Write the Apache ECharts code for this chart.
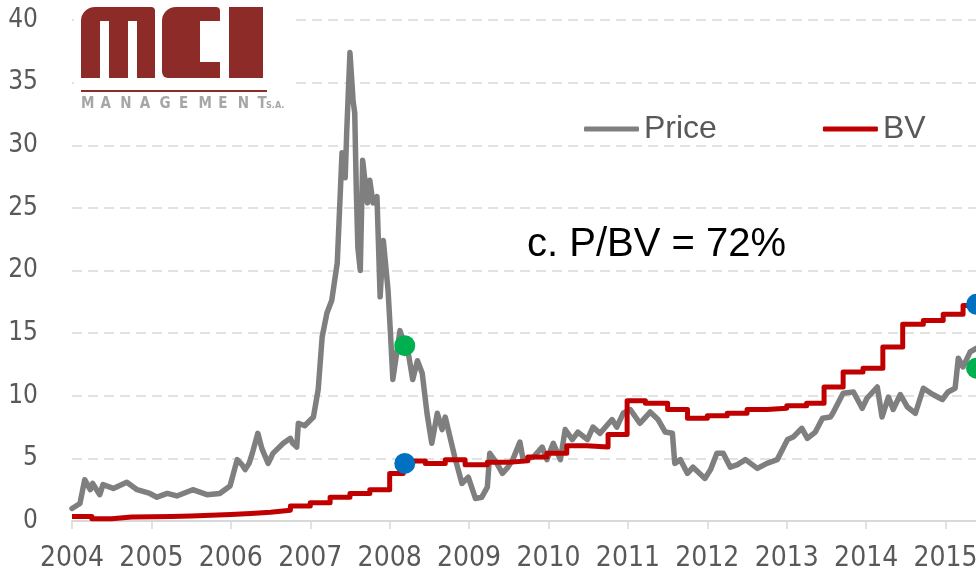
<!DOCTYPE html>
<html>
<head>
<meta charset="utf-8">
<script src="https://cdn.jsdelivr.net/npm/echarts@6/dist/echarts.min.js"></script>
<style>
  html, body { margin: 0; padding: 0; background: #fff; }
  #chart { width: 976px; height: 577px; }
</style>
</head>
<body>
<div id="chart"></div>
<script>
// price (year, PLN)
var priceYears = [2004.00, 2004.10, 2004.16, 2004.23, 2004.26, 2004.35, 2004.39, 2004.52, 2004.69, 2004.82,
  2004.98, 2005.07, 2005.20, 2005.32, 2005.52, 2005.70, 2005.86, 2005.99, 2006.08, 2006.14,
  2006.18, 2006.23, 2006.27, 2006.34, 2006.39, 2006.47, 2006.53, 2006.66, 2006.75, 2006.78,
  2006.83, 2006.85, 2006.93, 2007.04, 2007.10, 2007.15, 2007.21, 2007.27, 2007.34, 2007.40,
  2007.44, 2007.46, 2007.50, 2007.54, 2007.56, 2007.58, 2007.60, 2007.63, 2007.66, 2007.72,
  2007.75, 2007.79, 2007.84, 2007.88, 2007.92, 2007.98, 2008.01, 2008.04, 2008.13, 2008.19,
  2008.24, 2008.29, 2008.35, 2008.41, 2008.47, 2008.53, 2008.60, 2008.66, 2008.70, 2008.76,
  2008.82, 2008.91, 2008.99, 2009.08, 2009.16, 2009.23, 2009.26, 2009.35, 2009.42, 2009.49,
  2009.55, 2009.64, 2009.68, 2009.81, 2009.92, 2009.98, 2010.06, 2010.15, 2010.21, 2010.30,
  2010.37, 2010.49, 2010.56, 2010.65, 2010.80, 2010.86, 2010.94, 2011.03, 2011.15, 2011.28,
  2011.38, 2011.47, 2011.56, 2011.59, 2011.66, 2011.75, 2011.82, 2011.97, 2012.04, 2012.12,
  2012.20, 2012.29, 2012.38, 2012.48, 2012.63, 2012.75, 2012.88, 2013.01, 2013.08, 2013.19,
  2013.26, 2013.36, 2013.45, 2013.55, 2013.58, 2013.71, 2013.84, 2013.95, 2014.01, 2014.14,
  2014.20, 2014.28, 2014.34, 2014.43, 2014.52, 2014.62, 2014.72, 2014.84, 2014.96, 2015.03,
  2015.12, 2015.16, 2015.22, 2015.31, 2015.39];
var priceValues = [1.0, 1.4, 3.3, 2.5, 3.0, 2.1, 2.9, 2.6, 3.1, 2.5,
  2.2, 1.9, 2.2, 2.0, 2.5, 2.1, 2.2, 2.8, 4.9, 4.5,
  4.1, 4.6, 5.4, 7.0, 5.8, 4.6, 5.4, 6.2, 6.6, 6.2,
  5.9, 7.8, 7.6, 8.3, 10.5, 14.7, 16.6, 17.6, 20.6, 29.4,
  27.4, 31.2, 37.4, 33.5, 32.6, 26.4, 21.8, 20.0, 28.8, 25.4,
  27.2, 25.4, 25.9, 17.9, 22.4, 18.4, 15.0, 11.3, 15.2, 14.0,
  13.2, 11.3, 12.8, 11.8, 8.6, 6.2, 8.6, 7.3, 8.3, 6.7,
  5.1, 3.0, 3.5, 1.8, 1.9, 2.7, 5.4, 4.6, 3.8, 4.3,
  4.9, 6.3, 4.9, 5.1, 5.9, 4.9, 6.2, 4.9, 7.3, 6.5,
  7.1, 6.5, 7.5, 7.0, 8.1, 7.5, 8.6, 8.9, 7.8, 8.7,
  8.1, 7.1, 7.0, 4.6, 4.9, 3.8, 4.3, 3.4, 4.1, 5.4,
  5.4, 4.3, 4.5, 4.9, 4.2, 4.6, 4.9, 6.5, 6.7, 7.4,
  6.6, 7.1, 8.2, 8.3, 8.6, 10.2, 10.3, 9.0, 9.8, 10.7,
  8.3, 9.9, 8.9, 10.1, 9.1, 8.6, 10.6, 10.1, 9.7, 10.3,
  10.6, 13.0, 12.3, 13.5, 13.8];

// book value per share, stepped (start of each period)
var bvYears = [2004.00, 2004.25, 2004.50, 2004.75, 2005.00, 2005.25, 2005.50, 2005.75, 2006.00, 2006.25,
  2006.50, 2006.75, 2007.00, 2007.25, 2007.50, 2007.75, 2008.00, 2008.17, 2008.45, 2008.70,
  2008.95, 2009.23, 2009.50, 2009.74, 2009.98, 2010.23, 2010.48, 2010.75, 2010.99, 2011.22,
  2011.50, 2011.75, 2012.00, 2012.25, 2012.50, 2012.75, 2013.00, 2013.25, 2013.47, 2013.71,
  2013.96, 2014.21, 2014.46, 2014.72, 2014.97, 2015.22, 2015.39];
var bvValues = [0.35, 0.18, 0.32, 0.34, 0.36, 0.40, 0.45, 0.52, 0.60, 0.70,
  0.85, 1.2, 1.45, 1.9, 2.2, 2.5, 3.8, 4.8, 4.6, 4.9,
  4.5, 4.7, 4.8, 5.1, 5.4, 6.0, 5.9, 6.9, 9.6, 9.4,
  8.9, 8.2, 8.4, 8.6, 8.9, 9.0, 9.2, 9.4, 10.7, 11.9,
  12.2, 13.9, 15.7, 16.0, 16.5, 17.2, 17.2];

var greenDots = [[2008.19, 14.0], [2015.39, 12.2]];
var blueDots = [[2008.19, 4.6], [2015.39, 17.3]];

var chart = echarts.init(document.getElementById('chart'));

var priceData = priceYears.map(function (y, i) { return [y, priceValues[i]]; });
var bvData = bvYears.map(function (y, i) { return [y, bvValues[i]]; });

var axisFont = "'DejaVu Sans Condensed', 'Liberation Sans', sans-serif";
var logoRed = '#8c2b27';

// logo built from blocks
var logo = [
  { type: 'rect', shape: { x: 74, y: 0, width: 216, height: 116 }, style: { fill: '#fff' } },
  { type: 'rect', shape: { x: 81, y: 7, width: 74, height: 71, r: [14, 4, 0, 0] }, style: { fill: logoRed } },
  { type: 'rect', shape: { x: 100, y: 21, width: 9, height: 57 }, style: { fill: '#fff' } },
  { type: 'rect', shape: { x: 128, y: 21, width: 9, height: 57 }, style: { fill: '#fff' } },
  { type: 'rect', shape: { x: 162, y: 7, width: 58, height: 71, r: [14, 4, 0, 6] }, style: { fill: logoRed } },
  { type: 'rect', shape: { x: 200, y: 21, width: 21, height: 41 }, style: { fill: '#fff' } },
  { type: 'rect', shape: { x: 229, y: 7, width: 34, height: 71 }, style: { fill: logoRed } },
  { type: 'rect', shape: { x: 81, y: 90, width: 186, height: 2 }, style: { fill: logoRed } }
];
'MANAGEMENT'.split('').forEach(function (ch, i) {
  logo.push({
    type: 'text', x: 81 + i * 19.6, y: 104,
    style: { text: ch, fill: '#a6a6a6', font: "bold 15px 'DejaVu Sans Condensed', sans-serif", verticalAlign: 'middle' }
  });
});
logo.push({
  type: 'text', x: 266, y: 106,
  style: { text: 'S.A.', fill: '#a6a6a6', font: "bold 9px 'DejaVu Sans Condensed', sans-serif", verticalAlign: 'middle' }
});
logo.forEach(function (el) { el.z = 10; });

chart.setOption({
  animation: false,
  grid: { left: 72, top: 20, width: 953, height: 501, outerBoundsMode: 'none', containLabel: false },
  legend: {
    data: ['Price', 'BV'],
    left: 579,
    top: 108,
    icon: 'roundRect',
    itemWidth: 55,
    itemHeight: 5,
    itemGap: 106,
    textStyle: { fontSize: 32, color: '#595959', fontFamily: "'Liberation Sans', Arial, sans-serif" }
  },
  xAxis: {
    type: 'value',
    min: 2004,
    max: 2016,
    interval: 1,
    splitLine: { show: false },
    axisLine: { lineStyle: { color: '#d9d9d9', width: 2 } },
    axisTick: { show: true, length: 8, lineStyle: { color: '#d9d9d9', width: 1.5 } },
    axisLabel: {
      margin: 24,
      color: '#595959',
      fontSize: 28,
      fontFamily: axisFont,
      showMinLabel: true,
      hideOverlap: false,
      formatter: function (v) { return String(v); }
    }
  },
  yAxis: {
    type: 'value',
    min: 0,
    max: 40,
    interval: 5,
    axisLine: { show: false },
    axisTick: { show: false },
    splitLine: { lineStyle: { color: '#d9d9d9', width: 1.5, type: [10, 6] } },
    axisLabel: { margin: 34, color: '#595959', fontSize: 26, fontFamily: axisFont }
  },
  graphic: {
    elements: logo.concat([{
      type: 'text', x: 527, y: 245, z: 10,
      style: { text: 'c. P/BV = 72%', fill: '#000', font: "40px 'Liberation Sans', Arial, sans-serif", verticalAlign: 'middle' }
    }])
  },
  series: [
    {
      name: 'Price', type: 'line', data: priceData, showSymbol: false,
      itemStyle: { color: '#7f7f7f' },
      lineStyle: { color: '#7f7f7f', width: 5.5, join: 'round', cap: 'round' }
    },
    {
      name: 'BV', type: 'line', step: 'end', data: bvData, showSymbol: false,
      itemStyle: { color: '#c00000' },
      lineStyle: { color: '#c00000', width: 5, join: 'round' }
    },
    {
      name: 'green', type: 'scatter', data: greenDots, symbolSize: 21,
      itemStyle: { color: '#00b050', opacity: 1 }, z: 5
    },
    {
      name: 'blue', type: 'scatter', data: blueDots, symbolSize: 21,
      itemStyle: { color: '#0070c0', opacity: 1 }, z: 5
    }
  ]
});
</script>
</body>
</html>
